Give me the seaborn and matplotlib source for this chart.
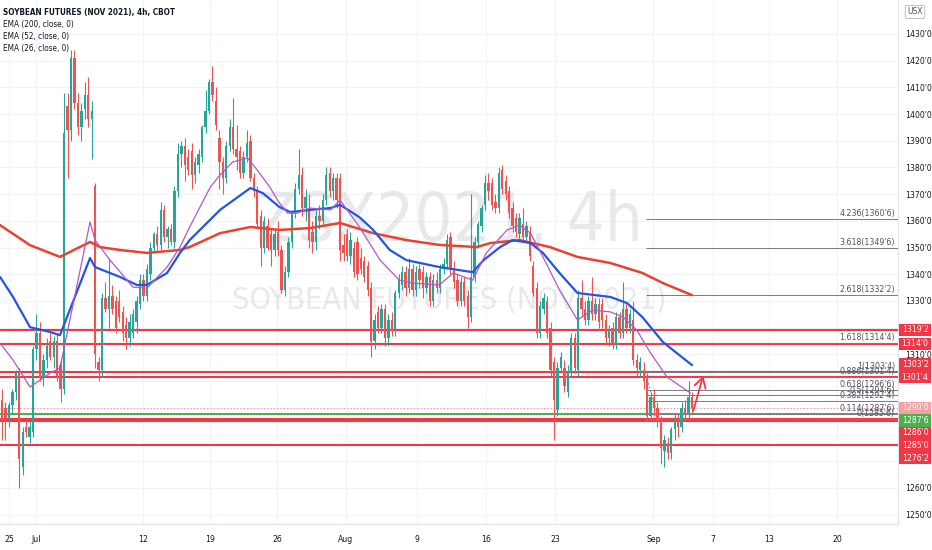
import numpy as np
import pandas as pd
import seaborn as sns
import matplotlib.pyplot as plt
import matplotlib.transforms as mtransforms
from matplotlib.patches import Rectangle

# ---- data ----
# 4h bars, 4 per trading day, x is counted in trading days from Jun 24
opens = [1293, 1290, 1286, 1291, 1296, 1303, 1268, 1283, 1279, 1281, 1312, 1318, 1301, 1308, 1315, 1309, 1315, 1306, 1297, 1403,
         1394, 1421, 1404, 1395, 1402, 1407, 1398, 1373, 1307, 1304, 1331, 1327, 1332, 1330, 1330, 1326, 1321, 1316, 1318, 1322,
         1329, 1338, 1332, 1340, 1350, 1355, 1351, 1364, 1354, 1357, 1352, 1371, 1385, 1388, 1384, 1386, 1377, 1381, 1384, 1395,
         1401, 1412, 1405, 1391, 1382, 1376, 1388, 1395, 1387, 1386, 1378, 1384, 1390, 1376, 1371, 1362, 1350, 1358, 1355, 1349,
         1356, 1349, 1334, 1341, 1352, 1363, 1372, 1377, 1365, 1365, 1356, 1352, 1362, 1360, 1368, 1378, 1371, 1376, 1376, 1351,
         1355, 1347, 1350, 1352, 1346, 1345, 1343, 1335, 1315, 1326, 1320, 1327, 1316, 1323, 1319, 1333, 1336, 1341, 1335, 1342,
         1334, 1342, 1341, 1335, 1339, 1330, 1338, 1335, 1342, 1344, 1354, 1342, 1338, 1330, 1337, 1332, 1324, 1339, 1352, 1358,
         1366, 1374, 1374, 1367, 1365, 1379, 1375, 1371, 1365, 1361, 1355, 1359, 1354, 1356, 1343, 1335, 1318, 1327, 1330, 1320,
         1307, 1289, 1305, 1305, 1296, 1303, 1316, 1304, 1331, 1327, 1323, 1330, 1325, 1329, 1329, 1323, 1316, 1320, 1314, 1324,
         1318, 1327, 1320, 1323, 1308, 1304, 1304, 1301, 1287, 1294, 1290, 1285, 1274, 1277, 1273, 1282, 1286, 1283, 1290, 1288,
         1294]
highs = [1297, 1292, 1292, 1297, 1304, 1305, 1283, 1286, 1285, 1313, 1325, 1322, 1310, 1316, 1318, 1317, 1318, 1308, 1408, 1408,
         1424, 1424, 1408, 1404, 1412, 1414, 1405, 1374, 1309, 1333, 1337, 1346, 1336, 1332, 1334, 1328, 1324, 1325, 1327, 1332,
         1340, 1340, 1344, 1352, 1356, 1358, 1367, 1366, 1358, 1359, 1373, 1389, 1390, 1391, 1387, 1389, 1384, 1387, 1396, 1409,
         1413, 1418, 1410, 1394, 1384, 1390, 1398, 1406, 1396, 1388, 1386, 1394, 1392, 1378, 1373, 1364, 1362, 1361, 1357, 1357,
         1360, 1351, 1343, 1354, 1364, 1374, 1387, 1380, 1372, 1370, 1360, 1364, 1366, 1370, 1380, 1380, 1378, 1378, 1378, 1355,
         1357, 1356, 1352, 1354, 1350, 1347, 1345, 1337, 1325, 1328, 1329, 1329, 1325, 1326, 1334, 1340, 1343, 1343, 1346, 1344,
         1343, 1344, 1343, 1341, 1341, 1340, 1341, 1344, 1346, 1355, 1356, 1345, 1340, 1339, 1339, 1334, 1370, 1354, 1360, 1366,
         1377, 1378, 1376, 1370, 1380, 1381, 1377, 1373, 1367, 1363, 1363, 1365, 1360, 1358, 1345, 1337, 1330, 1333, 1332, 1322,
         1309, 1307, 1311, 1308, 1306, 1318, 1318, 1334, 1338, 1330, 1332, 1339, 1331, 1331, 1331, 1325, 1321, 1322, 1326, 1326,
         1337, 1329, 1327, 1330, 1310, 1309, 1307, 1303, 1296, 1297, 1292, 1287, 1280, 1279, 1283, 1288, 1288, 1292, 1293, 1300,
         1296]
lows = [1278, 1278, 1283, 1288, 1293, 1260, 1265, 1279, 1277, 1279, 1308, 1300, 1298, 1305, 1308, 1305, 1300, 1292, 1295, 1376,
        1390, 1402, 1392, 1390, 1398, 1395, 1383, 1305, 1300, 1302, 1326, 1320, 1325, 1318, 1322, 1315, 1312, 1313, 1316, 1318,
        1327, 1330, 1330, 1338, 1348, 1349, 1349, 1352, 1350, 1351, 1350, 1369, 1380, 1375, 1377, 1372, 1374, 1378, 1382, 1393,
        1400, 1405, 1394, 1372, 1370, 1374, 1386, 1385, 1379, 1376, 1376, 1382, 1375, 1369, 1357, 1343, 1348, 1349, 1343, 1347,
        1347, 1333, 1332, 1339, 1350, 1361, 1370, 1362, 1360, 1350, 1348, 1349, 1357, 1358, 1366, 1369, 1368, 1365, 1345, 1345,
        1345, 1344, 1339, 1338, 1340, 1337, 1332, 1309, 1312, 1318, 1318, 1313, 1313, 1317, 1317, 1331, 1334, 1332, 1333, 1332,
        1332, 1335, 1331, 1333, 1328, 1328, 1333, 1333, 1340, 1342, 1340, 1335, 1328, 1328, 1328, 1320, 1322, 1337, 1350, 1356,
        1364, 1368, 1364, 1363, 1363, 1370, 1368, 1361, 1356, 1354, 1353, 1352, 1352, 1345, 1332, 1316, 1316, 1325, 1316, 1302,
        1278, 1287, 1303, 1296, 1294, 1301, 1303, 1302, 1324, 1321, 1321, 1323, 1323, 1320, 1320, 1314, 1313, 1312, 1312, 1316,
        1316, 1318, 1318, 1306, 1302, 1302, 1297, 1285, 1285, 1287, 1283, 1269, 1268, 1271, 1271, 1278, 1279, 1281, 1285, 1286,
        1288]
closes = [1285, 1286, 1291, 1296, 1303, 1271, 1281, 1281, 1283, 1312, 1318, 1301, 1308, 1313, 1309, 1315, 1302, 1297, 1393, 1394,
          1421, 1404, 1395, 1401, 1407, 1398, 1401, 1310, 1304, 1331, 1327, 1332, 1327, 1320, 1324, 1318, 1316, 1322, 1325, 1330,
          1338, 1332, 1342, 1350, 1355, 1351, 1364, 1354, 1357, 1352, 1371, 1385, 1388, 1381, 1379, 1377, 1382, 1385, 1395, 1401,
          1412, 1407, 1396, 1382, 1376, 1388, 1395, 1387, 1384, 1378, 1384, 1389, 1376, 1371, 1359, 1350, 1360, 1350, 1349, 1355,
          1349, 1334, 1341, 1352, 1363, 1372, 1377, 1365, 1369, 1353, 1352, 1362, 1360, 1368, 1377, 1371, 1376, 1368, 1349, 1348,
          1347, 1353, 1341, 1340, 1342, 1339, 1334, 1315, 1323, 1320, 1327, 1316, 1323, 1319, 1333, 1338, 1341, 1335, 1342, 1334,
          1341, 1338, 1335, 1339, 1330, 1338, 1335, 1342, 1344, 1353, 1342, 1337, 1330, 1337, 1330, 1324, 1339, 1352, 1359, 1365,
          1374, 1371, 1366, 1365, 1378, 1372, 1370, 1363, 1358, 1356, 1361, 1354, 1358, 1347, 1333, 1318, 1328, 1331, 1318, 1304,
          1293, 1305, 1309, 1298, 1303, 1316, 1305, 1331, 1327, 1323, 1330, 1325, 1329, 1322, 1323, 1316, 1319, 1314, 1324, 1318,
          1327, 1320, 1325, 1308, 1305, 1307, 1300, 1287, 1294, 1290, 1285, 1275, 1278, 1273, 1282, 1286, 1283, 1290, 1288, 1294,
          1290]

# EMA values read at points along each line (x in trading days)
ema200_x = [-0.14, 2.03, 4.2, 6.38, 7.1, 8.55, 10.5, 12.9, 13.6, 15.8, 18.0, 20.1, 22.3, 24.5, 26.9, 29.3, 31.7, 34.4,
            35.4, 37.5, 39.7, 41.7, 44.1, 46.4, 47.9, 50.0]
ema200_y = [1358.4, 1350.9, 1346.5, 1352.1, 1350.2, 1349.1, 1348.0, 1349.1, 1350.2, 1355.4, 1357.7, 1356.6, 1357.3,
            1359.2, 1355.4, 1352.8, 1351.0, 1350.2, 1351.7, 1352.8, 1350.2, 1346.5, 1344.2, 1340.5, 1336.7, 1332.2]
ema52_x = [-0.14, 0.8, 2.03, 3.48, 4.2, 6.38, 6.74, 8.55, 9.78, 10.5, 11.96, 12.9, 13.6, 15.8, 18.0, 18.9, 20.1, 20.9,
           22.3, 23.8, 24.5, 25.9, 26.9, 28.1, 29.3, 31.7, 34.1, 34.9, 36.1, 37.0, 38.3, 39.2, 40.4, 41.7, 44.1, 45.3,
           46.4, 47.9, 48.9, 50.0]
ema52_y = [1339.0, 1331.5, 1320.2, 1318.4, 1317.2, 1346.1, 1342.7, 1339.0, 1336.0, 1336.0, 1340.5, 1348.0, 1352.8,
           1364.1, 1372.3, 1370.4, 1365.2, 1363.3, 1364.1, 1364.8, 1366.0, 1361.4, 1356.6, 1349.1, 1345.3, 1342.7,
           1340.8, 1345.3, 1350.2, 1352.8, 1351.7, 1348.0, 1340.5, 1333.0, 1331.5, 1329.2, 1324.0, 1314.6, 1310.5, 1306.0]
ema26_x = [-0.14, 0.8, 2.03, 3.48, 4.2, 6.38, 6.74, 7.83, 9.49, 10.5, 11.96, 12.9, 13.6, 15.1, 15.8, 16.7, 17.8, 18.5,
           19.4, 20.1, 20.7, 21.4, 22.3, 23.8, 24.5, 25.9, 27.4, 28.8, 29.8, 31.7, 32.7, 34.1, 35.1, 36.6, 37.5, 38.3,
           39.2, 40.4, 41.7, 42.8, 44.1, 45.0, 46.0, 47.0, 48.2, 49.9]
ema26_y = [1314.2, 1307.9, 1297.8, 1303.0, 1304.9, 1359.6, 1352.8, 1345.3, 1335.2, 1334.8, 1342.7, 1350.2, 1357.7,
           1372.7, 1377.2, 1382.0, 1383.5, 1379.0, 1372.7, 1366.7, 1362.9, 1362.9, 1364.8, 1364.1, 1367.8, 1357.7,
           1345.3, 1337.8, 1336.7, 1336.0, 1340.5, 1337.8, 1348.0, 1356.6, 1358.4, 1355.4, 1346.5, 1334.1, 1322.9,
           1326.6, 1325.9, 1324.0, 1319.1, 1310.5, 1301.5, 1295.5]

# drawn support / resistance levels
red_levels = [1319.25, 1314.0, 1303.25, 1301.5, 1286.0, 1285.0, 1276.25]
green_level = 1287.75

# fibonacci extension drawing
fib_ratios = [0, 0.114, 0.382, 0.5, 0.618, 0.886, 1, 1.618, 2.618, 3.618, 4.236]
fib_low = 1285.8
fib_high = 1303.5
fib_start = 46.7

# time axis
date_ticks = [0.5, 2.45, 10.2, 15.1, 19.95, 24.9, 30.1, 35.1, 40.1, 47.2, 51.5, 55.6, 60.5]
date_labels = ['25', 'Jul', '12', '19', '26', 'Aug', '9', '16', '23', 'Sep', '7', '13', '20']
price_ticks = list(range(1250, 1440, 10))

UP = '#26a69a'
DOWN = '#ef5350'
RED = '#f23645'
GREEN = '#4caf50'
TXT = '#131722'


def fmt_price(p):
    q = round(p * 4) / 4
    whole = int(np.floor(q))
    return f"{whole}'{int(round((q - whole) * 8))}"


sns.set_theme(style='white')
plt.rcParams['font.family'] = ['DejaVu Sans']
plt.rcParams['font.stretch'] = 'condensed'

fig = plt.figure(figsize=(9.32, 5.5), dpi=100)
ax = fig.add_axes([0, 26 / 550, 898 / 932, 524 / 550])
ax.set_xlim(-0.145, 64.93)
ax.set_ylim(1246.5, 1442.7)

df = pd.DataFrame({'open': opens, 'high': highs, 'low': lows, 'close': closes})
df['x'] = np.arange(len(df)) * 0.25
df['up'] = df['close'] >= df['open']
colors = np.where(df['up'], UP, DOWN)

# grid
for p in price_ticks:
    ax.axhline(p, color='#f0f3fa', lw=0.8, zorder=0)
for d in date_ticks:
    ax.axvline(d, color='#f0f3fa', lw=0.8, zorder=0)

# watermark
ax.text(0.5, 0.576, 'ZSX2021, 4h', transform=ax.transAxes, ha='center', va='center',
        fontsize=48, color='#d1d4dc', alpha=0.5, zorder=0.5)
ax.text(0.5, 0.427, 'SOYBEAN FUTURES (NOV 2021)', transform=ax.transAxes, ha='center', va='center',
        fontsize=22, color='#d1d4dc', alpha=0.5, zorder=0.5)

# levels
for lv in red_levels:
    ax.axhline(lv, color=RED, lw=1.5, zorder=2)
ax.axhline(green_level, color=GREEN, lw=1.5, zorder=2)
last = closes[-1]
ax.axhline(last, color=RED, lw=0.8, ls=(0, (1, 2)), alpha=0.6, zorder=2)

# fibonacci
for r in fib_ratios:
    lv = fib_low + r * (fib_high - fib_low)
    ax.hlines(lv, fib_start, 64.93, color='#787b86', lw=0.7, zorder=2)
    ax.text(64.7, lv + 0.3, f"{r:g}({fmt_price(lv)})", ha='right', va='bottom',
            fontsize=6.3, color='#50535e', zorder=2)
ax.plot([46.6, 47.6], [fib_high, fib_low], color='#787b86', lw=0.7, ls=(0, (2, 2)), zorder=2)

# candles
ax.vlines(df['x'], df['low'], df['high'], colors=colors, lw=0.8, zorder=3)
body = (df['close'] - df['open']).abs().clip(lower=0.4)
ax.bar(df['x'], body, bottom=df[['open', 'close']].min(axis=1), width=0.17,
       color=colors, linewidth=0, zorder=3)

# EMAs
sns.lineplot(x=ema200_x, y=ema200_y, ax=ax, color='#e8432f', lw=1.8, sort=False, estimator=None, zorder=4)
sns.lineplot(x=ema52_x, y=ema52_y, ax=ax, color='#2455e0', lw=1.6, sort=False, estimator=None, zorder=4)
sns.lineplot(x=ema26_x, y=ema26_y, ax=ax, color='#b356c9', lw=0.9, sort=False, estimator=None, zorder=4)

# arrow
ax.annotate('', xy=(50.87, 1303.0), xytext=(50.05, 1288.0),
            arrowprops=dict(arrowstyle='->,head_length=0.6,head_width=0.35', color=RED, lw=1.3), zorder=5)

# right scale labels for the levels, pushed apart around the last price
h = 4.7
above = sorted([lv for lv in red_levels if lv > last])
below = sorted([lv for lv in red_levels + [green_level] if lv < last], reverse=True)
boxes = [(last, last, '#f7a1a4')]
prev = last
for lv in above:
    pos = max(lv, prev + h)
    boxes.append((lv, pos, RED))
    prev = pos
prev = last
for lv in below:
    pos = min(lv, prev - h)
    boxes.append((lv, pos, GREEN if lv == green_level else RED))
    prev = pos

trans = mtransforms.blended_transform_factory(ax.transAxes, ax.transData)
bw = 32 / 898
for lv, pos, c in boxes:
    ax.add_patch(Rectangle((1 + 1 / 898, pos - 2.3), bw, 4.6, transform=trans, clip_on=False,
                           facecolor=c, edgecolor='none', zorder=6))
    ax.text(1 + 1 / 898 + bw / 2, pos, fmt_price(lv), transform=trans, ha='center', va='center',
            fontsize=6.2, color='white', clip_on=False, zorder=7)

# price scale
shown = [p for p in price_ticks if all(abs(p - b[1]) > 3.6 for b in boxes)]
ax.yaxis.tick_right()
ax.set_yticks(shown)
ax.set_yticklabels([fmt_price(p) for p in shown])
ax.set_xticks(date_ticks)
ax.set_xticklabels(date_labels)
ax.tick_params(axis='both', length=0, labelsize=6.2, colors=TXT)
ax.tick_params(axis='y', pad=5)
ax.tick_params(axis='x', pad=8)
for s in ['top', 'left']:
    ax.spines[s].set_visible(False)
for s in ['right', 'bottom']:
    ax.spines[s].set_color('#e0e3eb')
    ax.spines[s].set_linewidth(0.8)
ax.set_xlabel('')
ax.set_ylabel('')

# legend block
legend_lines = ['SOYBEAN FUTURES (NOV 2021), 4h, CBOT', 'EMA (200, close, 0)', 'EMA (52, close, 0)',
                'EMA (26, close, 0)']
for k, t in enumerate(legend_lines):
    ax.text(3 / 898, 1 - (12 + 12 * k) / 524, t, transform=ax.transAxes, ha='left', va='center',
            fontsize=5.9, color=TXT, fontweight='bold' if k == 0 else 'normal', zorder=8)

fig.text(915 / 932, 1 - 12 / 550, 'USX', ha='center', va='center', fontsize=6, color='#50535e',
         bbox=dict(boxstyle='round,pad=0.25', fc='white', ec='#b2b5be', lw=0.6))

fig.savefig('out.png', dpi=100)
